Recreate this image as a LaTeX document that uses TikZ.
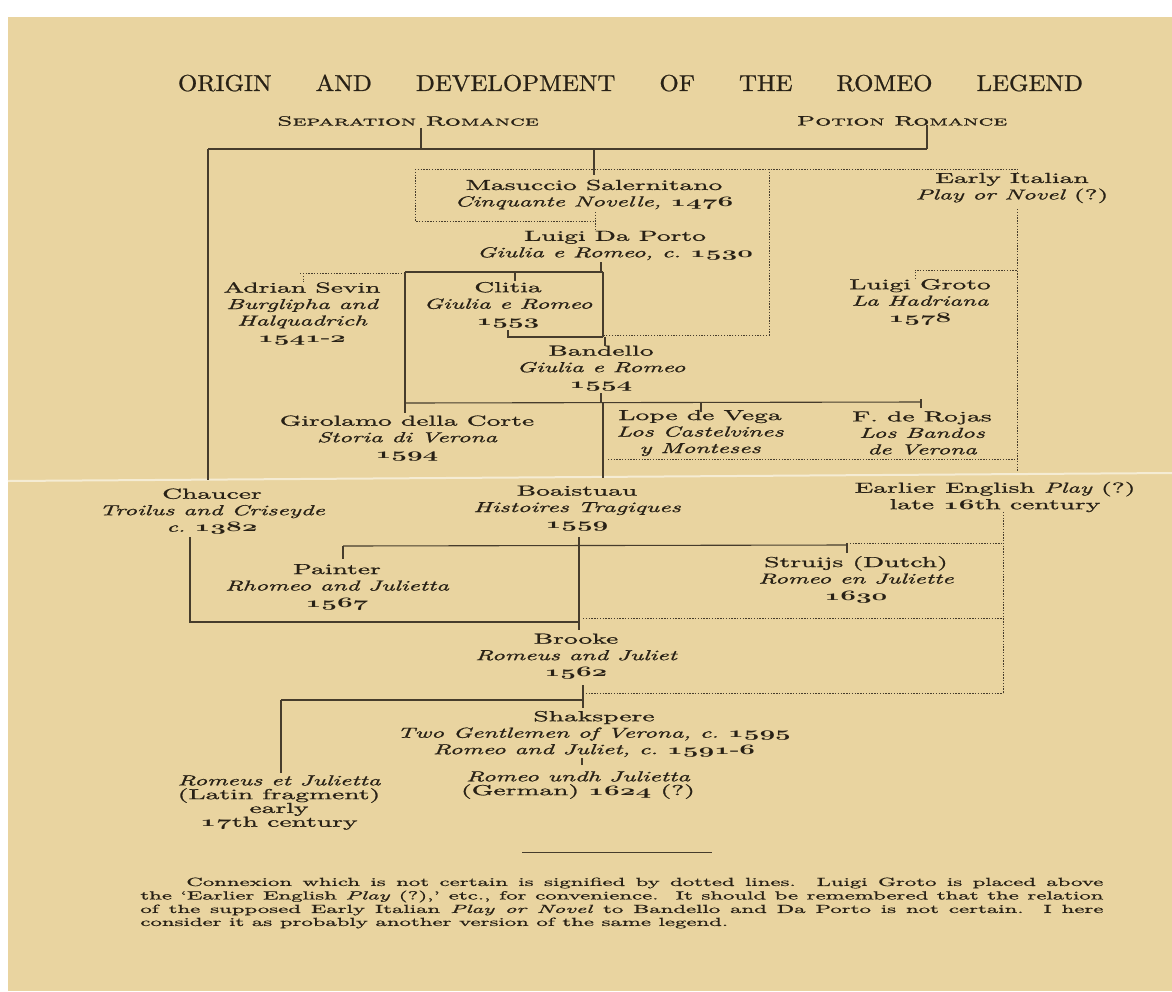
\documentclass[tikz,border=0pt]{standalone}
\usepackage{graphicx}
\usepackage{fontspec}
\setmainfont{lmroman10-regular.otf}[ItalicFont=lmroman10-italic.otf, BoldFont=lmroman10-bold.otf, SmallCapsFont=lmromancaps10-regular.otf, FakeBold=0.8]
\definecolor{paper}{RGB}{233,212,160}
\definecolor{ink}{RGB}{40,33,22}
\definecolor{rulec}{RGB}{70,60,44}
\newcommand\os[1]{{\usefont{OML}{cmm}{b}{it}#1}}
\newcommand\ital[1]{\scalebox{0.9}[1]{\itshape #1}}
\tikzset{
  entry/.style={xscale=1.9, text=ink, inner sep=0pt, align=center, font=\fontsize{14.5}{16.5}\selectfont},
  tight/.style={font=\fontsize{14.5}{13.8}\selectfont},
  head/.style={xscale=1.08, text=ink, inner sep=0pt, font=\fontsize{23}{23}\selectfont},
  romance/.style={xscale=1.85, text=ink, inner sep=0pt, font=\fontsize{13.5}{13.5}\selectfont\scshape},
  foot/.style={xscale=1.93, text=ink, inner sep=0pt, anchor=west, font=\fontsize{11.8}{12}\selectfont},
  link/.style={draw=rulec, line width=1.1pt},
  heavy/.style={draw=rulec, line width=2.2pt},
  maybe/.style={draw=rulec, line width=1pt, dash pattern=on 1.3pt off 1.5pt},
}
\begin{document}
\begin{tikzpicture}[x=1pt,y=-1pt]
\useasboundingbox (0,0) rectangle (1172,991);
\fill[white] (0,0) rectangle (1172,991);
\fill[paper] (8,17) rectangle (1172,991);
\draw[white!55!paper, line width=2pt] (8,481) -- (1172,473);

% ---------- texts ----------
\node[head] (title) at (630.5,83) {\makebox[838pt][s]{ORIGIN AND DEVELOPMENT OF THE ROMEO LEGEND}};
\node[romance] (sep) at (408,121) {Separation Romance};
\node[romance] (potion) at (902,121) {Potion Romance};

\node[entry] (masuccio) at (594,194.5) {Masuccio Salernitano\\ \ital{Cinquante Novelle,} \os{1476}};
\node[entry] (daporto) at (615,245.5) {Luigi Da Porto\\ \ital{Giulia e Romeo, c.} \os{1530}};
\node[entry] (early) at (1012,188) {Early Italian\\ \ital{Play or Novel} (?)};
\node[entry] (sevin) at (302,313.5) {Adrian Sevin\\ \ital{Burglipha and}\\ \ital{Halquadrich}\\ \os{1541}-\os{2}};
\node[entry] (clitia) at (508,305) {Clitia\\ \ital{Giulia e Romeo}\\ \os{1553}};
\node[entry] (groto) at (920,302) {Luigi Groto\\ \ital{La Hadriana}\\ \os{1578}};
\node[entry] (bandello) at (601,368.5) {Bandello\\ \ital{Giulia e Romeo}\\ \os{1554}};
\node[entry] (corte) at (407,438.5) {Girolamo della Corte\\ \ital{Storia di Verona}\\ \os{1594}};
\node[entry] (lope) at (700,433) {Lope de Vega\\ \ital{Los Castelvines}\\ \ital{y Monteses}};
\node[entry] (rojas) at (922,433) {F. de Rojas\\ \ital{Los Bandos}\\ \ital{de Verona}};

\node[entry] (chaucer) at (212,511.5) {Chaucer\\ \ital{Troilus and Criseyde}\\ \ital{c.} \os{1382}};
\node[entry] (boaistuau) at (577,508.5) {Boaistuau\\ \ital{Histoires Tragiques}\\ \os{1559}};
\node[entry] (english) at (995,497) {Earlier English \ital{Play} (?)\\ late \os{16}th century};
\node[entry] (painter) at (337,587) {Painter\\ \ital{Rhomeo and Julietta}\\ \os{1567}};
\node[entry] (struijs) at (856,579.5) {Struijs (Dutch)\\ \ital{Romeo en Juliette}\\ \os{1630}};
\node[entry] (brooke) at (576,656.5) {Brooke\\ \ital{Romeus and Juliet}\\ \os{1562}};
\node[entry] (shak) at (594,734) {Shakspere\\ \ital{Two Gentlemen of Verona, c.} \os{1595}\\ \ital{Romeo and Juliet, c.} \os{1591}-\os{6}};
\node[entry, tight] (undh) at (578,785) {\ital{Romeo undh Julietta}\\ (German) \os{1624} (?)};
\node[entry, tight] (romeus) at (279,802.5) {\ital{Romeus et Julietta}\\ (Latin fragment)\\ early\\ \os{17}th century};

% footnote
\draw[link, line width=0.9pt] (522,852) -- (712,852);
\node[foot] (f1) at (186,883) {\makebox[475.1pt][s]{Connexion which is not certain is signified by dotted lines.\ \ Luigi Groto is placed above}};
\node[foot] (f2) at (140,896.5) {\makebox[499pt][s]{the ‘Earlier English \textit{Play} (?),’ etc., for convenience.\ \ It should be remembered that the relation}};
\node[foot] (f3) at (140,910) {\makebox[499pt][s]{of the supposed Early Italian \textit{Play or Novel} to Bandello and Da Porto is not certain.\ \ I here}};
\node[foot] (f4) at (140,923) {consider it as probably another version of the same legend.};

% ---------- junction coordinates ----------
\coordinate (mainL) at (208,149);
\coordinate (mainR) at (927,149);
\coordinate (sepTop) at (421,128); \coordinate (sepJ) at (421,149);
\coordinate (potTop) at (927,125);
\coordinate (midJ) at (594,149); \coordinate (midE) at (594,175);
\coordinate (leftE) at (208,480);
\coordinate (dotTL) at (415,169); \coordinate (dotTR) at (1017,169); \coordinate (dotTRe) at (1017,174);
\coordinate (masBL) at (415,221); \coordinate (masBR) at (595,221);
\coordinate (masTk1) at (595,212); \coordinate (masTk2) at (595,229);
\coordinate (dpTk) at (601,262); \coordinate (dpJ) at (601,272);
\coordinate (dpL) at (405,272); \coordinate (dpR) at (603,272);
\coordinate (sevL) at (300,273); \coordinate (sevTk) at (303,273); \coordinate (sevTkE) at (303,282); \coordinate (sevR) at (405,273);
\coordinate (clJ) at (515,272); \coordinate (clTk) at (515,281);
\coordinate (clB) at (508,330); \coordinate (clBJ) at (508,337); \coordinate (bJ) at (603,337);
\coordinate (eiV) at (769,169); \coordinate (eiVB) at (769,335); \coordinate (eiH) at (603,335);
\coordinate (bTkT) at (605,337); \coordinate (bTk) at (605,346);
\coordinate (bBot) at (601,393); \coordinate (bBotJ) at (601,403);
\coordinate (lowL) at (405,403); \coordinate (lowR) at (921,402);
\coordinate (gcTk) at (405,413); \coordinate (lpJ) at (701,402.5); \coordinate (lpTk) at (701,412);
\coordinate (rjTop) at (921,399); \coordinate (rjTk) at (921,408);
\coordinate (bsJ) at (603,403); \coordinate (bsE) at (603,478);
\coordinate (eiRV) at (1017,209); \coordinate (eiRVE) at (1017,472);
\coordinate (grTk) at (915,279); \coordinate (grJ) at (915,270); \coordinate (grR) at (1017,270);
\coordinate (lrL) at (608,459); \coordinate (lrR) at (1017,459);

\coordinate (boT) at (579,537); \coordinate (boB) at (579,630);
\coordinate (paJ) at (343,546); \coordinate (paTk) at (343,559);
\coordinate (stJ) at (847,545); \coordinate (stTk) at (847,553);
\coordinate (stDL) at (847,543); \coordinate (stDR) at (1003,543);
\coordinate (chT) at (190,537); \coordinate (chB) at (190,622); \coordinate (chR) at (579,622);
\coordinate (chDL) at (583,618); \coordinate (chDR) at (1003,618);
\coordinate (eeT) at (1003,512); \coordinate (eeB) at (1003,693);
\coordinate (brT) at (583,685); \coordinate (brJ) at (583,700); \coordinate (shT) at (583,708);
\coordinate (brDL) at (583,693);
\coordinate (rmJ) at (281,700); \coordinate (rmE) at (281,773);
\coordinate (shB) at (582,758); \coordinate (unT) at (582,765);

% ---------- solid connexions ----------
\draw[heavy] (sepTop) -- (sepJ);
\draw[heavy] (potTop) -- (mainR);
\draw[link] (mainL) -- (mainR);
\draw[link] (mainL) -- (leftE);
\draw[link] (midJ) -- (midE);
\draw[link] (dpTk) -- (dpJ);
\draw[link] (dpL) -- (dpR);
\draw[link] (clJ) -- (clTk);
\draw[link] (dpL) -- (lowL);
\draw[link] (dpR) -- (bJ);
\draw[link] (clB) -- (clBJ) -- (bJ);
\draw[link] (bTkT) -- (bTk);
\draw[link] (bBot) -- (bBotJ);
\draw[link] (lowL) -- (lowR);
\draw[link] (lowL) -- (gcTk);
\draw[link] (lpJ) -- (lpTk);
\draw[link] (rjTop) -- (rjTk);
\draw[link] (bsJ) -- (bsE);

\draw[link] (boT) -- (boB);
\draw[link] (paJ) -- (stJ);
\draw[link] (paJ) -- (paTk);
\draw[link] (stDL) -- (stTk);
\draw[link] (chT) -- (chB) -- (chR);
\draw[link] (brT) -- (shT);
\draw[link] (rmJ) -- (brJ);
\draw[link] (rmJ) -- (rmE);
\draw[link] (shB) -- (unT);

% ---------- uncertain connexions ----------
\draw[maybe] (dotTL) -- (dotTR) -- (dotTRe);
\draw[maybe] (dotTL) -- (masBL) -- (masBR);
\draw[maybe] (masTk1) -- (masTk2);
\draw[maybe] (sevL) -- (sevR);
\draw[maybe] (sevTk) -- (sevTkE);
\draw[maybe] (eiV) -- (eiVB) -- (eiH);
\draw[maybe] (eiRV) -- (eiRVE);
\draw[maybe] (grTk) -- (grJ) -- (grR);
\draw[maybe] (lrL) -- (lrR);
\draw[maybe] (eeT) -- (eeB);
\draw[maybe] (stDL) -- (stDR);
\draw[maybe] (chDL) -- (chDR);
\draw[maybe] (brDL) -- (eeB);
\end{tikzpicture}
\end{document}
